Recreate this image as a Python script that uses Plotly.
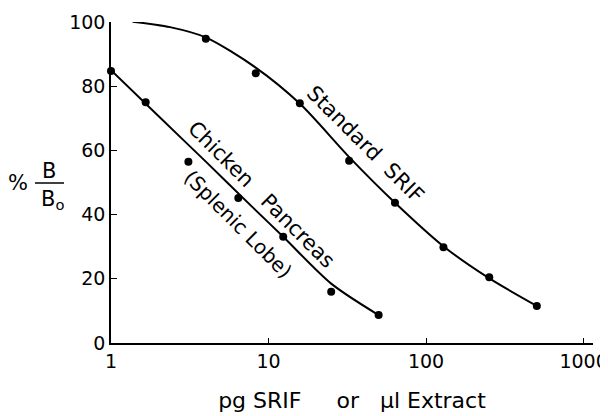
import plotly.graph_objects as go

# Standard SRIF (pg) data points
std_x = [4, 8.3, 15.8, 32.5, 63.5, 129, 252, 505]
std_y = [94.8, 84.0, 74.7, 56.8, 43.7, 29.8, 20.5, 11.5]
# Standard SRIF fitted curve
std_cx = [1.37, 2.37, 3.99, 8.29, 15.85, 32.4, 63.5, 130, 251, 507]
std_cy = [100.1, 98.4, 95.2, 85.8, 74.5, 58.0, 43.7, 30.0, 20.2, 11.5]

# Chicken pancreas (splenic lobe) extract (µl) data points
chk_x = [1, 1.66, 3.1, 6.43, 12.4, 25, 50]
chk_y = [84.7, 75, 56.5, 45.2, 33.1, 16.0, 8.7]
# Chicken pancreas curve
chk_cx = [1, 2, 4, 8, 12.4, 25, 50]
chk_cy = [85, 70.7, 56.5, 42.1, 33.1, 18.5, 8.7]

x_ticks = [1, 10, 100, 1000]
x_tick_text = ["1", "10", "100", "1000"]
y_ticks = [0, 20, 40, 60, 80, 100]

FONT = "DejaVu Sans"
OFF = 8  # page body margin
W, H = 600, 408
L, R, T, B = 111 - OFF, 15, 22 - OFF, 408 - (343 - OFF)
PW, PH = W - L - R, H - T - B


def px(xp):
    return (xp - OFF - L) / PW


def py(yp):
    return (H - B - (yp - OFF)) / PH


fig = go.Figure()
for cx, cy in [(std_cx, std_cy), (chk_cx, chk_cy)]:
    fig.add_trace(go.Scatter(x=cx, y=cy, mode="lines",
                             line=dict(color="black", width=2, shape="spline", smoothing=0.8),
                             hoverinfo="skip", cliponaxis=False))
for mx, my in [(std_x, std_y), (chk_x, chk_y)]:
    fig.add_trace(go.Scatter(x=mx, y=my, mode="markers", marker=dict(color="black", size=8),
                             cliponaxis=False))

fig.update_layout(
    width=W, height=H, margin=dict(l=L, r=R, t=T, b=B, autoexpand=False),
    paper_bgcolor="white", plot_bgcolor="white", showlegend=False,
    font=dict(family=FONT, color="black", size=19),
)
fig.update_xaxes(type="log", range=[0, 3.06], tickvals=x_ticks, ticktext=x_tick_text,
                 showline=True, linecolor="black", linewidth=1.5, ticks="inside", ticklen=5,
                 tickcolor="black", showgrid=False, zeroline=False, tickfont=dict(size=19),
                 automargin=False,
                 title=dict(text="pg SRIF     or   µl Extract", font=dict(size=22), standoff=22))
fig.update_yaxes(range=[0, 100], tickvals=y_ticks, showline=True, linecolor="black", linewidth=1.5,
                 ticks="inside", ticklen=6, tickcolor="black", showgrid=False, zeroline=False,
                 tickfont=dict(size=19), automargin=False)


def ann(size):
    return dict(showarrow=False, xanchor="center", yanchor="middle", xref="paper", yref="paper",
                font=dict(family=FONT, size=size, color="black"))


fig.add_annotation(x=px(365), y=py(144), text="Standard  SRIF", textangle=45, **ann(21))
fig.add_annotation(x=px(261), y=py(194), text="Chicken   Pancreas", textangle=45, **ann(21))
fig.add_annotation(x=px(238), y=py(224), text="(Splenic Lobe)", textangle=45, **ann(20))

# y-axis title: % B / Bo
fig.add_annotation(x=px(18), y=py(183), text="%", **ann(21))
fig.add_annotation(x=px(49), y=py(171), text="B", **ann(21))
fig.add_annotation(x=px(52), y=py(200), text="B<sub>o</sub>", **ann(21))
fig.add_shape(type="line", xref="paper", yref="paper", x0=px(35), x1=px(64), y0=py(183), y1=py(183),
              line=dict(color="black", width=1.5))

fig.write_html("out.html")
